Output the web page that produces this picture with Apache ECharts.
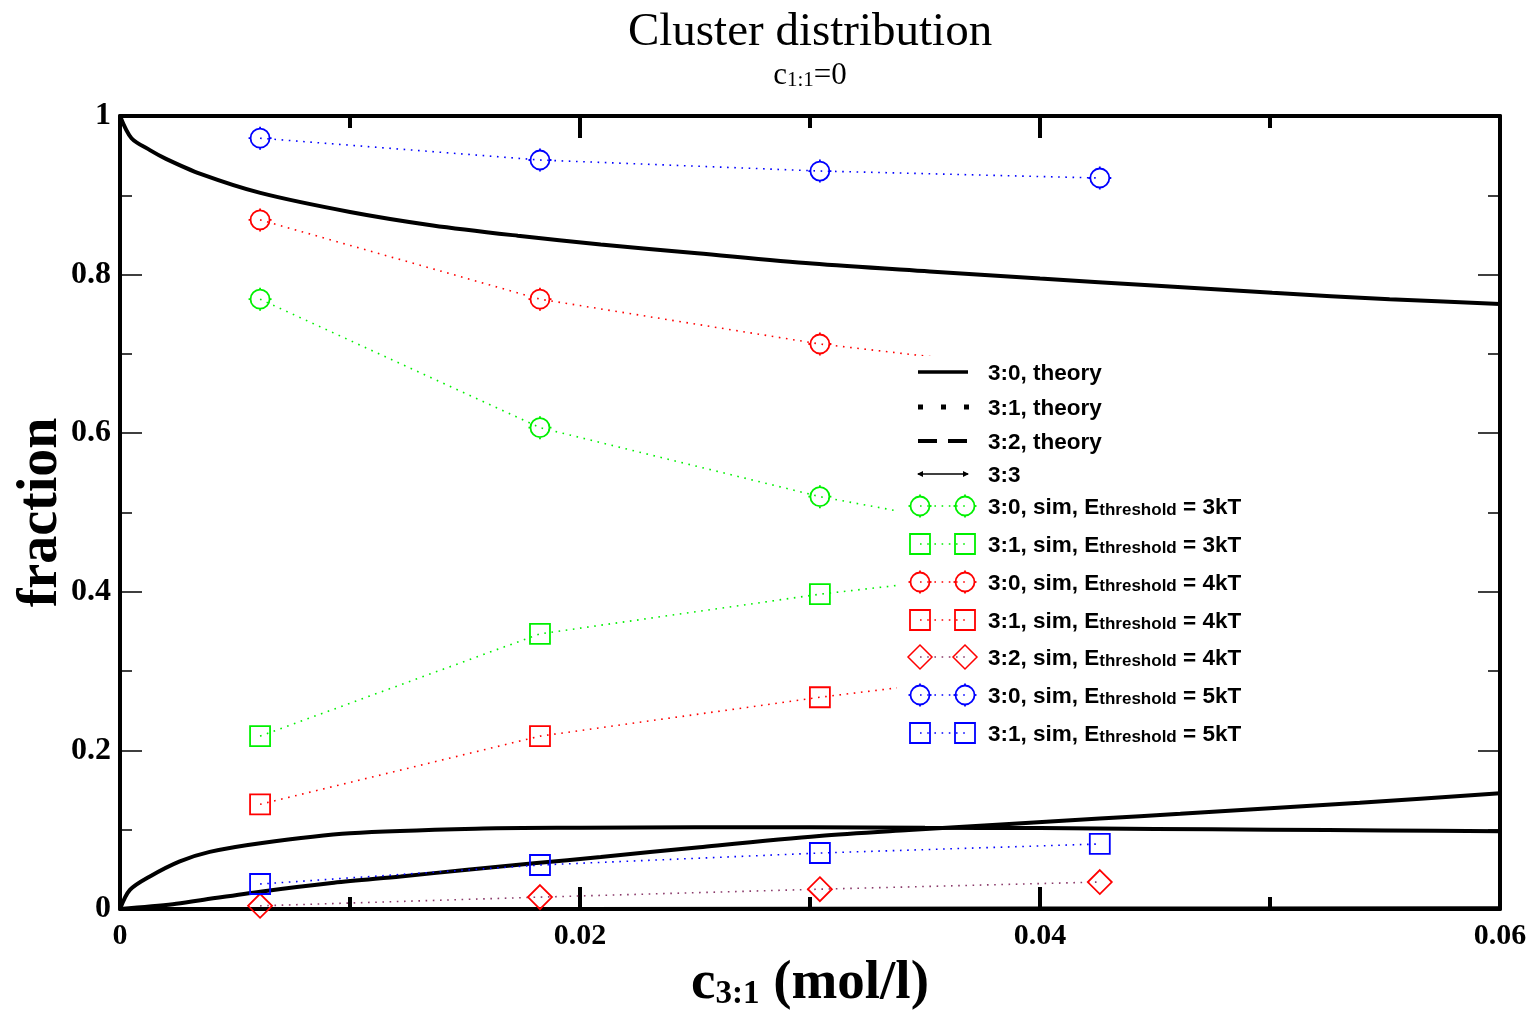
<!DOCTYPE html>
<html>
<head>
<meta charset="utf-8">
<script src="https://cdn.jsdelivr.net/npm/echarts@6/dist/echarts.min.js"></script>
<style>
html,body{margin:0;padding:0;background:#fff;}
#chart{width:1537px;height:1018px;}
</style>
</head>
<body>
<div id="chart"></div>
<script>
// ---------------- DATA ----------------
var simX = [0.00609, 0.01826, 0.03043, 0.0426];

var sim30_3kT = [0.769, 0.607, 0.520, 0.455];
var sim31_3kT = [0.218, 0.347, 0.397, 0.437];
var sim30_4kT = [0.869, 0.769, 0.7125, 0.672];
var sim31_4kT = [0.132, 0.218, 0.267, 0.310];
var sim32_4kT = [0.004, 0.015, 0.025, 0.034];
var sim30_5kT = [0.972, 0.9445, 0.9306, 0.9218];
var sim31_5kT = [0.0315, 0.0555, 0.0706, 0.082];

var theory30X = [0, 0.0005, 0.0013, 0.002, 0.0035, 0.0061, 0.01, 0.0136, 0.0173, 0.0209, 0.0251, 0.0301, 0.0352, 0.04, 0.0451, 0.0501, 0.0552, 0.06];
var theory30Y = [1.0, 0.972, 0.957, 0.946, 0.927, 0.903, 0.879, 0.862, 0.849, 0.838, 0.827, 0.814, 0.804, 0.795, 0.786, 0.777, 0.769, 0.763];

var theory31X = [0, 0.0023, 0.0035, 0.0061, 0.0093, 0.0122, 0.0151, 0.018, 0.0209, 0.0252, 0.0304, 0.0343, 0.0383, 0.0426, 0.0461, 0.0539, 0.06];
var theory31Y = [0, 0.006, 0.011, 0.0218, 0.0330, 0.0410, 0.0495, 0.0576, 0.0655, 0.0780, 0.0920, 0.0995, 0.1065, 0.1140, 0.1200, 0.1340, 0.1460];

var theory32X = [0, 0.00043, 0.0013, 0.0026, 0.0039, 0.0061, 0.01, 0.0158, 0.02, 0.025, 0.03, 0.035, 0.04, 0.045, 0.05, 0.055, 0.06];
var theory32Y = [0, 0.024, 0.041, 0.060, 0.072, 0.083, 0.0955, 0.1015, 0.1025, 0.103, 0.103, 0.1025, 0.102, 0.101, 0.100, 0.099, 0.098];

var theory33X = [0, 0.02, 0.04, 0.06];
var theory33Y = [0, 0, 0.0005, 0.001];

var xTicks = {min: 0, max: 0.06, interval: 0.02};
var yTicks = {min: 0, max: 1, interval: 0.2};

// ---------------- STYLE ----------------
var GREEN = '#00f000', RED = '#ff0000', BLUE = '#0000ff', MAROON = '#8a3a6a';
var CIRCLE = 'path://M2.5,12A9.5,9.5,0,1,1,21.5,12A9.5,9.5,0,1,1,2.5,12Z M12,0.5L12,2.5 M12,21.5L12,23.5 M0.5,12L2.5,12 M21.5,12L23.5,12';
var SERIF = '"Liberation Serif", "DejaVu Serif", serif';
var SANS = '"Liberation Sans", Arial, sans-serif';

function zip(xs, ys) { return xs.map(function (x, i) { return [x, ys[i]]; }); }

function simSeries(name, ys, sym, color, lineColor) {
  var size = sym === 'rect' ? 20 : (sym === 'diamond' ? 24 : 23);
  return {
    name: name, type: 'line', data: zip(simX, ys),
    symbol: sym, symbolSize: size, showAllSymbol: true,
    lineStyle: {color: lineColor || color, width: 1.6, type: [1.6, 5.6]},
    itemStyle: {color: 'rgba(0,0,0,0)', borderColor: color, borderWidth: 1.8},
    emphasis: {disabled: true}, z: 3, animation: false
  };
}
function theorySeries(name, xs, ys) {
  return {
    name: name, type: 'line', data: zip(xs, ys), symbol: 'none', smooth: 0.3,
    lineStyle: {color: '#000', width: 4}, emphasis: {disabled: true}, z: 2, animation: false
  };
}

var series = [
  theorySeries('3:0, theory', theory30X, theory30Y),
  theorySeries('3:1, theory', theory31X, theory31Y),
  theorySeries('3:2, theory', theory32X, theory32Y),
  theorySeries('3:3', theory33X, theory33Y),
  simSeries('3:0, sim, 3kT', sim30_3kT, CIRCLE, GREEN),
  simSeries('3:1, sim, 3kT', sim31_3kT, 'rect', GREEN),
  simSeries('3:0, sim, 4kT', sim30_4kT, CIRCLE, RED),
  simSeries('3:1, sim, 4kT', sim31_4kT, 'rect', RED),
  simSeries('3:2, sim, 4kT', sim32_4kT, 'diamond', RED, MAROON),
  simSeries('3:0, sim, 5kT', sim30_5kT, CIRCLE, BLUE),
  simSeries('3:1, sim, 5kT', sim31_5kT, 'rect', BLUE)
];

function axisCommon(showLabel, isX) {
  return {
    type: 'value', min: isX ? xTicks.min : yTicks.min, max: isX ? xTicks.max : yTicks.max,
    interval: isX ? xTicks.interval : yTicks.interval,
    axisLine: {show: true, onZero: false, lineStyle: {color: '#000', width: 4}},
    axisTick: {show: true, inside: true, length: 22, lineStyle: {color: '#000', width: isX ? 4 : 1.5}},
    minorTick: {show: true, splitNumber: 2, length: 12, lineStyle: {color: '#000', width: isX ? 4 : 1.5}},
    splitLine: {show: false},
    axisLabel: {show: showLabel, color: '#000', fontFamily: SERIF, fontWeight: 'bold', fontSize: isX ? 30 : 32, margin: isX ? 12 : 9}
  };
}

var xBottom = axisCommon(true, true);
xBottom.position = 'bottom';
xBottom.name = '{m|c}{s|3:1}{m| (mol/l)}';
xBottom.nameLocation = 'middle';
xBottom.nameGap = 20;
xBottom.nameTextStyle = {
  rich: {
    m: {fontFamily: SERIF, fontWeight: 'bold', fontSize: 55, color: '#000', lineHeight: 80, verticalAlign: 'bottom'},
    s: {fontFamily: SERIF, fontWeight: 'bold', fontSize: 33, color: '#000', lineHeight: 4, verticalAlign: 'bottom'}
  }
};
var xTop = axisCommon(false, true); xTop.position = 'top';
var yLeft = axisCommon(true, false);
yLeft.position = 'left';
yLeft.name = 'fraction';
yLeft.nameLocation = 'middle';
yLeft.nameGap = 50;
yLeft.nameMoveOverlap = false;
yLeft.nameTextStyle = {fontFamily: SERIF, fontWeight: 'bold', fontSize: 56, color: '#000'};
var yRight = axisCommon(false, false); yRight.position = 'right';

// ---------------- LEGEND (drawn box) ----------------
var LX1 = 920, LX2 = 965, LTX = 988;
var legendRows = [
  {kind: 'solid', text: '3:0, theory', y: 372},
  {kind: 'dot', text: '3:1, theory', y: 407},
  {kind: 'dash', text: '3:2, theory', y: 441},
  {kind: 'arrow', text: '3:3', y: 474},
  {kind: 'sym', sym: 'circle', color: GREEN, text: ['3:0, sim, E', 'threshold', ' = 3kT'], y: 506},
  {kind: 'sym', sym: 'rect', color: GREEN, text: ['3:1, sim, E', 'threshold', ' = 3kT'], y: 544},
  {kind: 'sym', sym: 'circle', color: RED, text: ['3:0, sim, E', 'threshold', ' = 4kT'], y: 582},
  {kind: 'sym', sym: 'rect', color: RED, text: ['3:1, sim, E', 'threshold', ' = 4kT'], y: 620},
  {kind: 'sym', sym: 'diamond', color: RED, line: MAROON, text: ['3:2, sim, E', 'threshold', ' = 4kT'], y: 657},
  {kind: 'sym', sym: 'circle', color: BLUE, text: ['3:0, sim, E', 'threshold', ' = 5kT'], y: 695},
  {kind: 'sym', sym: 'rect', color: BLUE, text: ['3:1, sim, E', 'threshold', ' = 5kT'], y: 733}
];
var legendRich = {
  t: {fontFamily: SANS, fontWeight: 'bold', fontSize: 22.5, fill: '#000', lineHeight: 36, verticalAlign: 'bottom'},
  s: {fontFamily: SANS, fontWeight: 'bold', fontSize: 17, fill: '#000', lineHeight: 4, verticalAlign: 'bottom'}
};
function symbolEls(sym, cx, cy, color) {
  if (sym === 'circle') {
    var els = [{type: 'circle', shape: {cx: cx, cy: cy, r: 9.5}, style: {fill: 'none', stroke: color, lineWidth: 1.8}, z: 101}];
    [[0, -1], [0, 1], [-1, 0], [1, 0]].forEach(function (d) {
      els.push({type: 'line', shape: {x1: cx + d[0] * 9.5, y1: cy + d[1] * 9.5, x2: cx + d[0] * 11.5, y2: cy + d[1] * 11.5},
        style: {stroke: color, lineWidth: 1.8}, z: 101});
    });
    return els;
  }
  if (sym === 'rect') {
    return [{type: 'rect', shape: {x: cx - 10, y: cy - 10, width: 20, height: 20}, style: {fill: 'none', stroke: color, lineWidth: 1.8}, z: 101}];
  }
  return [{type: 'polygon', shape: {points: [[cx, cy - 12], [cx + 12, cy], [cx, cy + 12], [cx - 12, cy]]}, style: {fill: 'none', stroke: color, lineWidth: 1.5}, z: 101}];
}
var legendEls = [{type: 'rect', shape: {x: 897, y: 356, width: 355, height: 396}, style: {fill: '#fff'}, z: 100}];
legendRows.forEach(function (r) {
  var y = r.y;
  if (r.kind === 'solid') {
    legendEls.push({type: 'line', shape: {x1: 918, y1: y, x2: 968, y2: y}, style: {stroke: '#000', lineWidth: 3.5}, z: 101});
  } else if (r.kind === 'dot') {
    legendEls.push({type: 'line', shape: {x1: 918, y1: y, x2: 971, y2: y}, style: {stroke: '#000', lineWidth: 5, lineDash: [5, 18]}, z: 101});
  } else if (r.kind === 'dash') {
    legendEls.push({type: 'line', shape: {x1: 918, y1: y, x2: 968, y2: y}, style: {stroke: '#000', lineWidth: 4, lineDash: [19, 11]}, z: 101});
  } else if (r.kind === 'arrow') {
    legendEls.push({type: 'line', shape: {x1: 918, y1: y, x2: 968, y2: y}, style: {stroke: '#000', lineWidth: 1.5}, z: 101});
    legendEls.push({type: 'polygon', shape: {points: [[917, y], [923, y - 3], [923, y + 3]]}, style: {fill: '#000'}, z: 101});
    legendEls.push({type: 'polygon', shape: {points: [[969, y], [963, y - 3], [963, y + 3]]}, style: {fill: '#000'}, z: 101});
  } else {
    legendEls.push({type: 'line', shape: {x1: LX1, y1: y, x2: LX2, y2: y}, style: {stroke: r.line || r.color, lineWidth: 1.6, lineDash: [1.6, 5.6]}, z: 101});
    legendEls = legendEls.concat(symbolEls(r.sym, LX1, y, r.color), symbolEls(r.sym, LX2, y, r.color));
  }
  var txt = Array.isArray(r.text) ? ('{t|' + r.text[0] + '}{s|' + r.text[1] + '}{t|' + r.text[2] + '}') : ('{t|' + r.text + '}');
  legendEls.push({type: 'text', x: LTX, y: y - 5, style: {text: txt, rich: legendRich, verticalAlign: 'middle', align: 'left'}, z: 101});
});

// ---------------- CHART ----------------
var chart = echarts.init(document.getElementById('chart'), null, {renderer: 'canvas'});
chart.setOption({
  animation: false,
  backgroundColor: '#fff',
  title: [
    {text: 'Cluster distribution', left: 805, top: 4, textAlign: 'center',
      textStyle: {fontFamily: SERIF, fontWeight: 'normal', fontSize: 47, color: '#000'}},
    {text: '{m|c}{s|1:1}{m|=0}', left: 805, top: 42, textAlign: 'center',
      textStyle: {fontWeight: 'normal', rich: {
        m: {fontFamily: SERIF, fontWeight: 'normal', fontSize: 31, color: '#000', lineHeight: 44, verticalAlign: 'bottom'},
        s: {fontFamily: SERIF, fontWeight: 'normal', fontSize: 21, color: '#000', lineHeight: 4, verticalAlign: 'bottom'}
      }}}
  ],
  grid: {left: 120, right: 37, top: 116, bottom: 109, containLabel: false, outerBoundsMode: 'none'},
  xAxis: [xBottom, xTop],
  yAxis: [yLeft, yRight],
  series: series,
  graphic: legendEls
});
</script>
</body>
</html>
